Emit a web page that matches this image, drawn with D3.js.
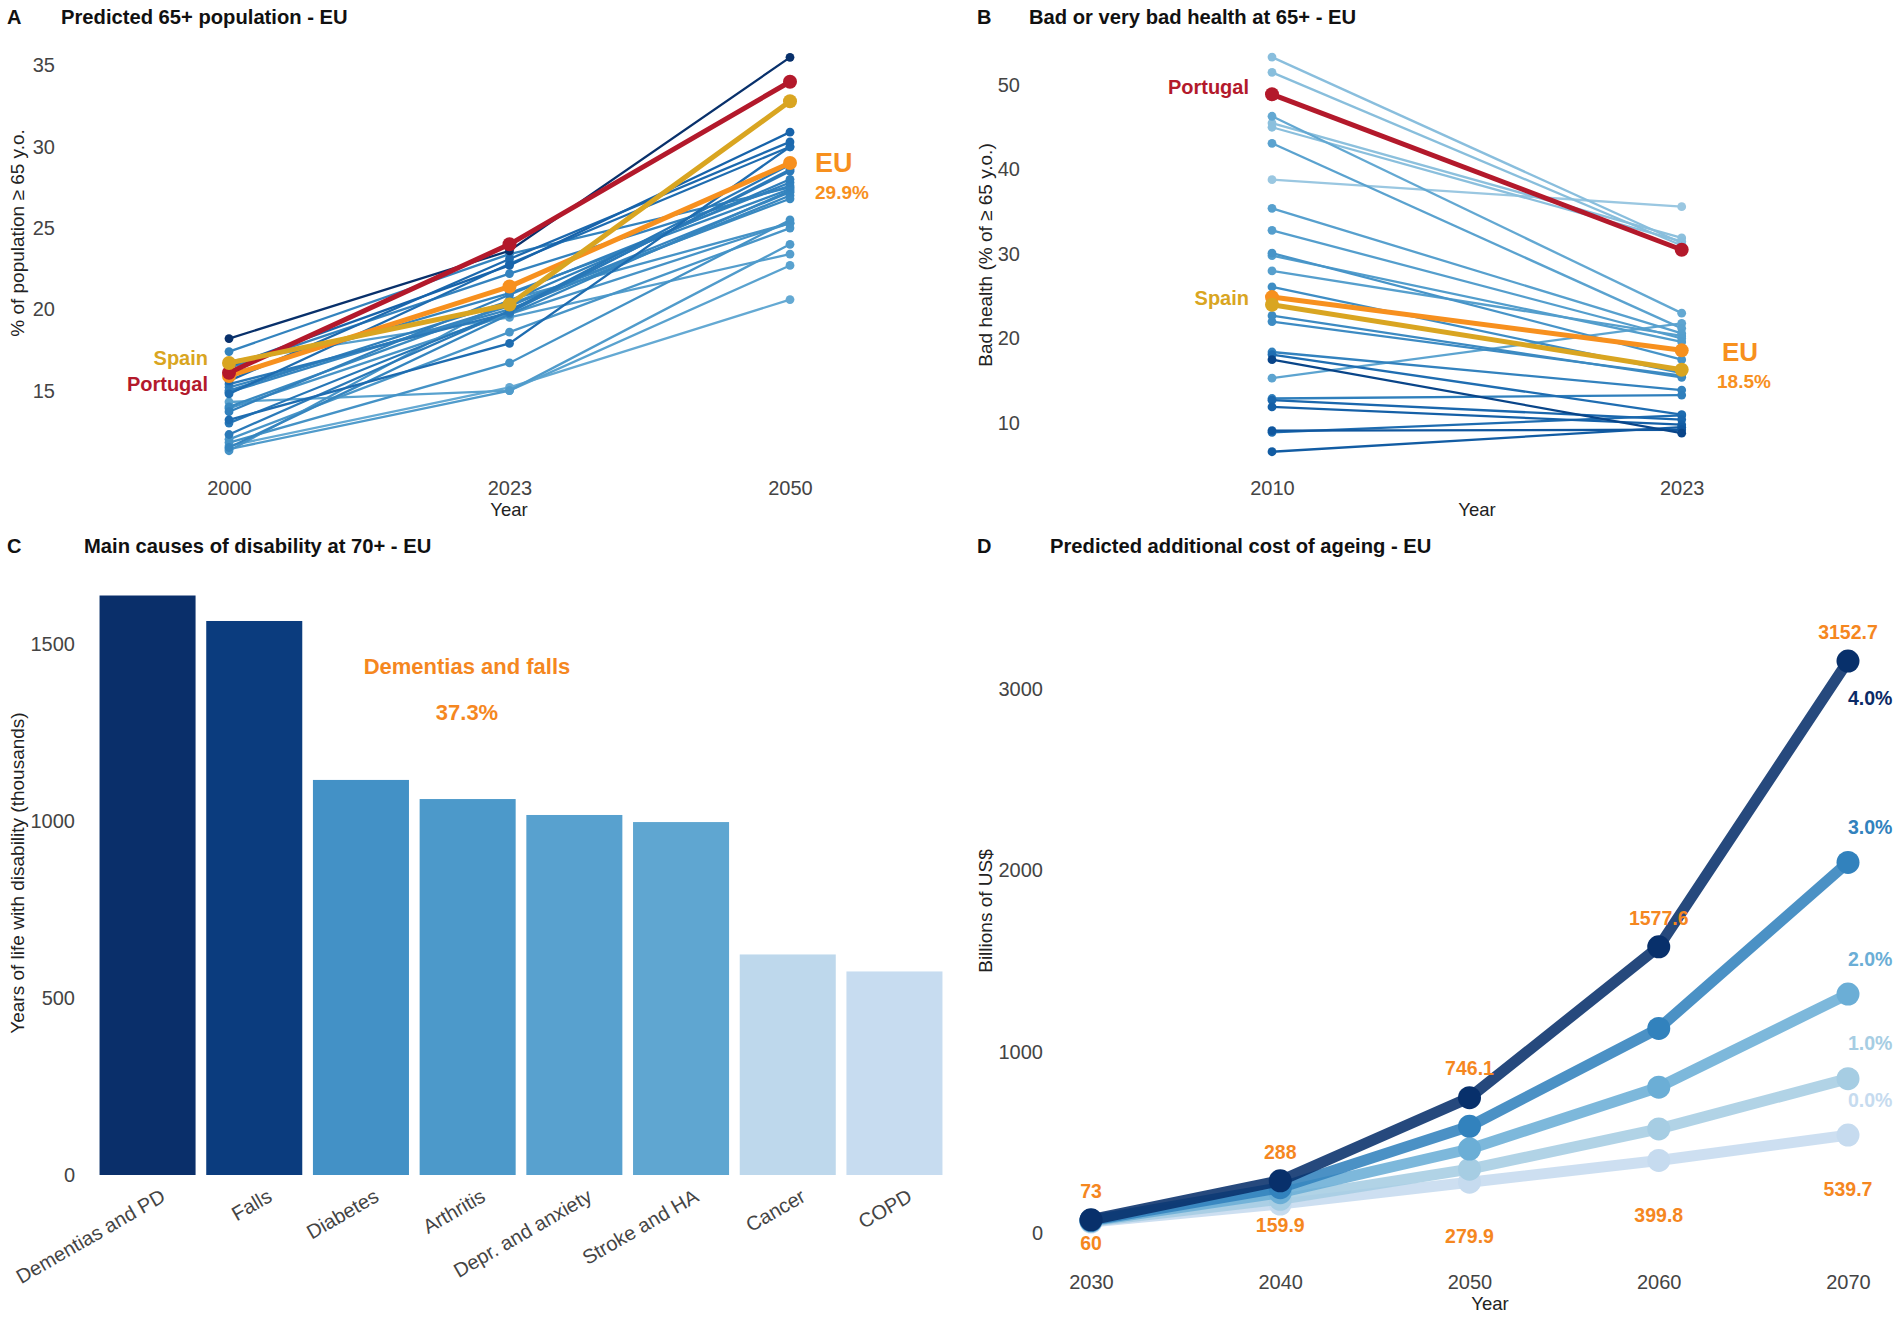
<!DOCTYPE html>
<html>
<head>
<meta charset="utf-8">
<script src="https://cdn.jsdelivr.net/npm/d3@7"></script>
<style>
  body { margin: 0; background: #fff; }
  svg { display: block; }
  text { font-family: "Liberation Sans", Arial, Helvetica, sans-serif; }
</style>
</head>
<body>
<svg id="chart" width="1902" height="1318"></svg>
<script>
// ---------------- DATA ----------------
// Panel A: share of population aged 65+ (%), EU countries
const popYears = ["2000", "2023", "2050"];
const pop2000 = [18.2, 17.4, 16.5, 16.4, 16.8, 16.0, 15.6, 15.4, 15.2, 15.0, 14.9, 14.8, 14.3, 14.0, 13.9, 13.7, 13.2, 13.0, 12.3, 12.0, 11.8, 11.6, 11.5, 11.4, 11.3];
const pop2023 = [23.6, 23.4, 22.7, 22.2, 19.5, 21.0, 23.1, 19.8, 20.0, 20.5, 20.2, 22.8, 15.0, 20.3, 19.7, 20.9, 17.9, 19.9, 19.9, 18.6, 16.7, 15.2, 19.7, 15.0, 20.6];
const pop2050 = [35.5, 27.5, 30.9, 27.6, 23.4, 27.4, 30.3, 28.6, 27.0, 28.0, 27.2, 30.0, 22.7, 26.8, 25.3, 27.8, 30.0, 28.9, 28.5, 25.0, 25.5, 20.6, 27.3, 24.0, 25.3];
const popSpain = [16.7, 20.3, 32.8];
const popPortugal = [16.1, 24.0, 34.0];
const popEU = [15.9, 21.4, 29.0];
const popTicks = [15, 20, 25, 30, 35];

// Panel B: bad or very bad self-perceived health at 65+ (%)
const healthYears = ["2010", "2023"];
const health2010 = [53.3, 51.5, 46.3, 45.5, 45.0, 43.1, 38.8, 35.4, 32.8, 30.1, 29.8, 28.0, 26.1, 22.7, 22.0, 18.4, 18.1, 17.5, 15.3, 12.9, 12.7, 11.9, 9.1, 8.9, 6.6];
const health2023 = [31.3, 31.0, 23.0, 31.9, 31.5, 21.2, 35.6, 20.6, 20.0, 17.5, 19.6, 20.3, 15.9, 15.4, 15.6, 13.9, 11.0, 8.8, 21.8, 13.3, 10.4, 9.8, 9.2, 10.9, 9.5];
const healthSpain = [24.0, 16.3];
const healthPortugal = [48.9, 30.5];
const healthEU = [24.9, 18.6];
const healthTicks = [10, 20, 30, 40, 50];

// Panel C: years lived with disability at 70+ (thousands)
const causes = ["Dementias and PD", "Falls", "Diabetes", "Arthritis", "Depr. and anxiety", "Stroke and HA", "Cancer", "COPD"];
const causeYLD = [1637, 1565, 1116, 1062, 1017, 997, 623, 575];
const yldTicks = [0, 500, 1000, 1500];
const barPalette = ["#0a2f6a", "#0b3c7e", "#4391c6", "#4c99ca", "#58a1cf", "#5fa6d1", "#bed8ec", "#c7dcf0"];

// Panel D: predicted additional cost of ageing (billions US$)
const costYears = [2030, 2040, 2050, 2060, 2070];
const costScenarios = ["0.0%", "1.0%", "2.0%", "3.0%", "4.0%"];
const cost0 = [60, 159.9, 279.9, 399.8, 539.7];
const cost1 = [64, 186, 352, 574, 851];
const cost2 = [67, 222, 463, 804, 1317];
const cost3 = [70, 250, 588, 1128, 2043];
const cost4 = [73, 288, 746.1, 1577.6, 3152.7];
const costTicks = [0, 1000, 2000, 3000];
const costPalette = ["#c6dbef", "#a6cde3", "#6baed6", "#3282bd", "#08306b"];

// ---------------- STYLE ----------------
const FONT = '"Liberation Sans", Arial, Helvetica, sans-serif';
const ORANGE = "#F7901E";
const GOLD = "#D9A521";
const RED = "#B3192B";
const LABEL_ORANGE = "#F5871F";
const svg = d3.select("#chart");
const fmt = d3.format("d");

function styleAxis(g) {
  g.select(".domain").remove();
  g.attr("font-family", null).attr("font-size", null);
  g.selectAll("text").attr("font-size", 20).attr("fill", "#444").style("font-family", FONT);
}
function header(lx, tx, y, letter, title) {
  svg.append("text").attr("x", lx).attr("y", y).attr("font-weight", "bold")
    .attr("font-size", 20).attr("fill", "#111").text(letter);
  svg.append("text").attr("x", tx).attr("y", y).attr("font-weight", "bold")
    .attr("font-size", 20.2).attr("fill", "#111").text(title);
}
function yTitle(x, yc, t) {
  svg.append("text").attr("transform", `translate(${x},${yc}) rotate(-90)`)
    .attr("text-anchor", "middle").attr("dy", "0.35em")
    .attr("font-size", 19).attr("fill", "#222").text(t);
}
function xTitle(x, y, t) {
  svg.append("text").attr("x", x).attr("y", y).attr("text-anchor", "middle")
    .attr("font-size", 18.5).attr("fill", "#222").text(t);
}
function label(x, y, t, color, size, anchor) {
  svg.append("text").attr("x", x).attr("y", y).attr("dy", "0.35em")
    .attr("text-anchor", anchor || "start").attr("font-weight", "bold")
    .attr("font-size", size).attr("fill", color).text(t);
}

// ---------------- PANEL A ----------------
header(7, 61, 24, "A", "Predicted 65+ population - EU");
const xA = d3.scalePoint().domain(popYears).range([229, 790]);
const yA = d3.scaleLinear().domain([15, 35]).range([390.6, 65.5]);
svg.append("g").attr("transform", "translate(62,0)")
  .call(d3.axisLeft(yA).tickValues(popTicks).tickFormat(fmt).tickSize(0).tickPadding(7)).call(styleAxis);
svg.append("g").attr("transform", "translate(0,462)")
  .call(d3.axisBottom(xA).tickSize(0).tickPadding(19)).call(styleAxis);
xTitle(509, 516, "Year");
yTitle(17, 233, "% of population \u2265 65 y.o.");

const colA = v => d3.interpolateBlues(Math.min(1, 0.52 + Math.pow(Math.max(0, (v - 20) / 15.5), 1.5) * 0.48));
const popRows = pop2000.map((v, i) => [v, pop2023[i], pop2050[i]])
  .sort((a, b) => a[2] - b[2]);
const lineA = d3.line().x((d, j) => xA(popYears[j])).y(d => yA(d));
const gA = svg.append("g");
popRows.forEach(r => {
  const c = colA(r[2]);
  gA.append("path").attr("d", lineA(r)).attr("fill", "none").attr("stroke", c).attr("stroke-width", 2.3);
  gA.selectAll(null).data(r).join("circle")
    .attr("cx", (d, j) => xA(popYears[j])).attr("cy", d => yA(d)).attr("r", 4.4).attr("fill", c);
});
[[popEU, ORANGE], [popPortugal, RED], [popSpain, GOLD]].forEach(([r, c]) => {
  gA.append("path").attr("d", lineA(r)).attr("fill", "none").attr("stroke", c).attr("stroke-width", 5);
  gA.selectAll(null).data(r).join("circle")
    .attr("cx", (d, j) => xA(popYears[j])).attr("cy", d => yA(d)).attr("r", 7).attr("fill", c);
});
label(208, yA(popSpain[0]) - 5, "Spain", GOLD, 20, "end");
label(208, yA(popPortugal[0]) + 11, "Portugal", RED, 20, "end");
label(815, yA(popEU[2]), "EU", ORANGE, 27);
label(815, yA(popEU[2]) + 29, "29.9%", ORANGE, 19);

// ---------------- PANEL B ----------------
header(977, 1029, 24, "B", "Bad or very bad health at 65+ - EU");
const xB = d3.scalePoint().domain(healthYears).range([1272, 1681.7]);
const yB = d3.scaleLinear().domain([10, 50]).range([423, 85]);
svg.append("g").attr("transform", "translate(1027,0)")
  .call(d3.axisLeft(yB).tickValues(healthTicks).tickFormat(fmt).tickSize(0).tickPadding(7)).call(styleAxis);
svg.append("g").attr("transform", "translate(0,462)")
  .call(d3.axisBottom(xB).tickSize(0).tickPadding(19)).call(styleAxis);
xTitle(1477, 516, "Year");
yTitle(985, 255, "Bad health (% of \u2265 65 y.o.)");

const colB = v => d3.interpolateBlues(0.92 - Math.sqrt(Math.max(0, (v - 8.8) / 26.8)) * 0.54);
const healthRows = health2010.map((v, i) => [v, health2023[i]]).sort((a, b) => b[1] - a[1]);
const lineB = d3.line().x((d, j) => xB(healthYears[j])).y(d => yB(d));
const gB = svg.append("g");
healthRows.forEach(r => {
  const c = colB(r[1]);
  gB.append("path").attr("d", lineB(r)).attr("fill", "none").attr("stroke", c).attr("stroke-width", 2.3);
  gB.selectAll(null).data(r).join("circle")
    .attr("cx", (d, j) => xB(healthYears[j])).attr("cy", d => yB(d)).attr("r", 4.4).attr("fill", c);
});
[[healthEU, ORANGE], [healthSpain, GOLD], [healthPortugal, RED]].forEach(([r, c]) => {
  gB.append("path").attr("d", lineB(r)).attr("fill", "none").attr("stroke", c).attr("stroke-width", 5);
  gB.selectAll(null).data(r).join("circle")
    .attr("cx", (d, j) => xB(healthYears[j])).attr("cy", d => yB(d)).attr("r", 7).attr("fill", c);
});
label(1249, yB(healthPortugal[0]) - 7, "Portugal", RED, 20, "end");
label(1249, yB(healthSpain[0]) - 7, "Spain", GOLD, 20, "end");
label(1722, yB(healthEU[1]) + 2, "EU", ORANGE, 26);
label(1717, yB(healthEU[1]) + 31, "18.5%", ORANGE, 19);

// ---------------- PANEL C ----------------
header(7, 84, 553, "C", "Main causes of disability at 70+ - EU");
const xC = d3.scaleBand().domain(causes).range([94.2, 947.8]).paddingInner(0.1).paddingOuter(0.05);
const yC = d3.scaleLinear().domain([0, 1500]).range([1175, 644]);
svg.append("g").attr("transform", "translate(82,0)")
  .call(d3.axisLeft(yC).tickValues(yldTicks).tickFormat(fmt).tickSize(0).tickPadding(7)).call(styleAxis);
svg.append("g").selectAll("rect").data(causes).join("rect")
  .attr("x", d => xC(d)).attr("width", xC.bandwidth())
  .attr("y", (d, i) => yC(causeYLD[i])).attr("height", (d, i) => yC(0) - yC(causeYLD[i]))
  .attr("fill", (d, i) => barPalette[i]);
const axC = svg.append("g").attr("transform", "translate(0,1188)")
  .call(d3.axisBottom(xC).tickSize(0).tickPadding(0)).call(styleAxis);
axC.selectAll("text").attr("text-anchor", "end").attr("y", 0).attr("dy", "0.71em")
  .attr("transform", "translate(12,0) rotate(-30)");
yTitle(17, 873, "Years of life with disability (thousands)");
label(467, 666, "Dementias and falls", LABEL_ORANGE, 22, "middle");
label(467, 712, ((causeYLD[0] + causeYLD[1]) / d3.sum(causeYLD) * 100).toFixed(1) + "%", LABEL_ORANGE, 22, "middle");

// ---------------- PANEL D ----------------
header(977, 1050, 553, "D", "Predicted additional cost of ageing - EU");
const xD = d3.scaleLinear().domain([2030, 2070]).range([1091, 1848]);
const yD = d3.scaleLinear().domain([0, 3000]).range([1233, 688.8]);
svg.append("g").attr("transform", "translate(1050,0)")
  .call(d3.axisLeft(yD).tickValues(costTicks).tickFormat(fmt).tickSize(0).tickPadding(7)).call(styleAxis);
svg.append("g").attr("transform", "translate(0,1262)")
  .call(d3.axisBottom(xD).tickValues(costYears).tickFormat(fmt).tickSize(0).tickPadding(13)).call(styleAxis);
xTitle(1490, 1310, "Year");
yTitle(985, 911, "Billions of US$");

const costSeries = [cost0, cost1, cost2, cost3, cost4];
const lineD = d3.line().x((d, j) => xD(costYears[j])).y(d => yD(d));
const gD = svg.append("g");
costSeries.forEach((s, k) => {
  gD.append("path").attr("d", lineD(s)).attr("fill", "none").attr("stroke", costPalette[k])
    .attr("stroke-opacity", 0.88).attr("stroke-width", 11).attr("stroke-linejoin", "round");
  gD.selectAll(null).data(s).join("circle")
    .attr("cx", (d, j) => xD(costYears[j])).attr("cy", d => yD(d)).attr("r", 11.5)
    .attr("fill", costPalette[k]);
});
// value labels
cost4.forEach((v, j) => label(xD(costYears[j]), yD(v) - 29, String(v), LABEL_ORANGE, 19.5, "middle"));
cost0.forEach((v, j) => label(xD(costYears[j]), yD(v - (costYears[j] <= 2040 ? 115 : 300)), String(v), LABEL_ORANGE, 19.5, "middle"));
// scenario labels
costScenarios.forEach((name, k) => {
  const s = costSeries[k];
  const yy = yD(s[s.length - 1]) + (name === "4.0%" ? 37 : -35);
  label(xD(2070), yy, name, k === 4 ? "#0b2a66" : costPalette[k], 19.5, "start");
});
</script>
</body>
</html>
